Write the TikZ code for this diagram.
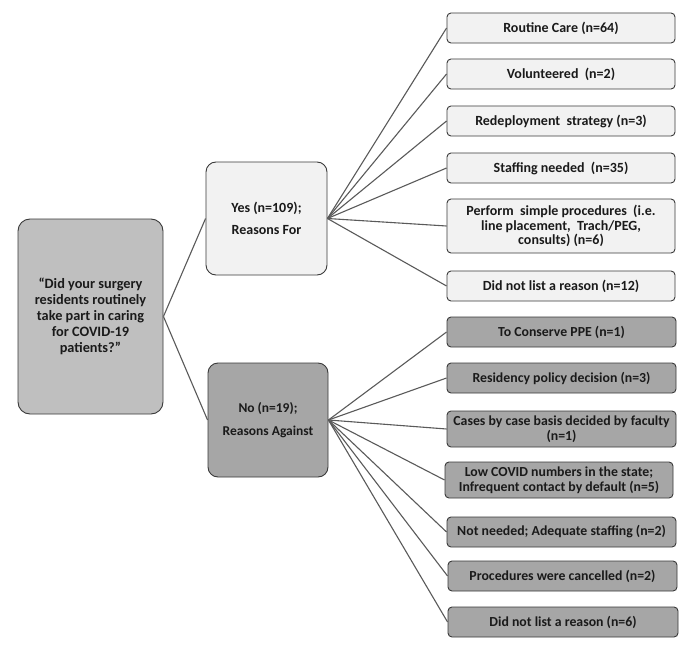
\documentclass[tikz,border=0pt]{standalone}
\usepackage{fontspec}
\setmainfont{Carlito}
\definecolor{lightfill}{HTML}{F2F2F2}
\definecolor{midfill}{HTML}{BFBFBF}
\definecolor{darkfill}{HTML}{A6A6A6}
\definecolor{edgec}{HTML}{3A3A3A}
\definecolor{linkc}{HTML}{5A5A5A}
\definecolor{textc}{HTML}{1A1A1A}
\tikzset{
  base/.style={draw=edgec, line width=0.9pt, align=center, text=textc, inner sep=1pt, font=\bfseries},
  rootbox/.style={base, fill=midfill, rounded corners=12pt, minimum width=145pt, minimum height=195pt, font=\bfseries\fontsize{14.3}{16}\selectfont},
  yesbox/.style={base, fill=lightfill, rounded corners=10pt, minimum width=121pt, minimum height=113pt, font=\bfseries\fontsize{14}{22}\selectfont},
  nobox/.style={base, fill=darkfill, rounded corners=10pt, minimum width=120pt, minimum height=114pt, font=\bfseries\fontsize{13.5}{22.5}\selectfont},
  yesitem/.style={base, fill=lightfill, rounded corners=4pt, minimum width=228pt, minimum height=30pt, font=\bfseries\fontsize{14}{14.5}\selectfont},
  noitem/.style={base, fill=darkfill, rounded corners=4pt, minimum width=229pt, minimum height=30pt, font=\bfseries\fontsize{13.8}{15}\selectfont},
  link/.style={draw=linkc, line width=1.1pt},
}
\begin{document}
\begin{tikzpicture}[x=1pt, y=-1pt]
\useasboundingbox (0,0) rectangle (690,650);
\fill[white] (0,0) rectangle (690,650);

\node[rootbox] (root) at (90.5,316.5) {“Did your surgery\\residents routinely\\take part in caring\\for COVID-19\\patients?”};
\node[yesbox] (yes) at (266.5,218.5) {Yes (n=109);\\Reasons For};
\node[nobox] (no) at (268,420) {No (n=19);\\Reasons Against};

\node[yesitem] (y1) at (561,28) {Routine Care (n=64)};
\node[yesitem] (y2) at (561,74) {Volunteered\ \ (n=2)};
\node[yesitem] (y3) at (561,121) {Redeployment\ \ strategy (n=3)};
\node[yesitem] (y4) at (561,168) {Staffing needed\ \ (n=35)};
\node[yesitem, minimum height=54pt] (y5) at (561,226) {Perform\ \ simple procedures\ \ (i.e.\\line placement,\ \ Trach/PEG,\\consults) (n=6)};
\node[yesitem] (y6) at (561,286) {Did not list a reason (n=12)};

\node[noitem] (n1) at (561.5,332) {To Conserve PPE (n=1)};
\node[noitem] (n2) at (561.5,378) {Residency policy decision (n=3)};
\node[noitem, minimum height=36pt] (n3) at (561.5,429) {Cases by case basis decided by faculty\\(n=1)};
\node[noitem, minimum height=36pt, minimum width=228pt] (n4) at (559,480) {Low COVID numbers in the state;\\Infrequent contact by default (n=5)};
\node[noitem] (n5) at (561.5,532) {Not needed; Adequate staffing (n=2)};
\node[noitem] (n6) at (562.5,576) {Procedures were cancelled (n=2)};
\node[noitem, minimum width=230pt] (n7) at (563,622) {Did not list a reason (n=6)};

\draw[link] (root.east) -- (yes.west);
\draw[link] (root.east) -- (no.west);
\foreach \t in {y1,y2,y3,y4,y5,y6} \draw[link] (yes.east) -- (\t.west);
\foreach \t in {n1,n2,n3,n4,n5,n6,n7} \draw[link] (no.east) -- (\t.west);
\end{tikzpicture}
\end{document}
